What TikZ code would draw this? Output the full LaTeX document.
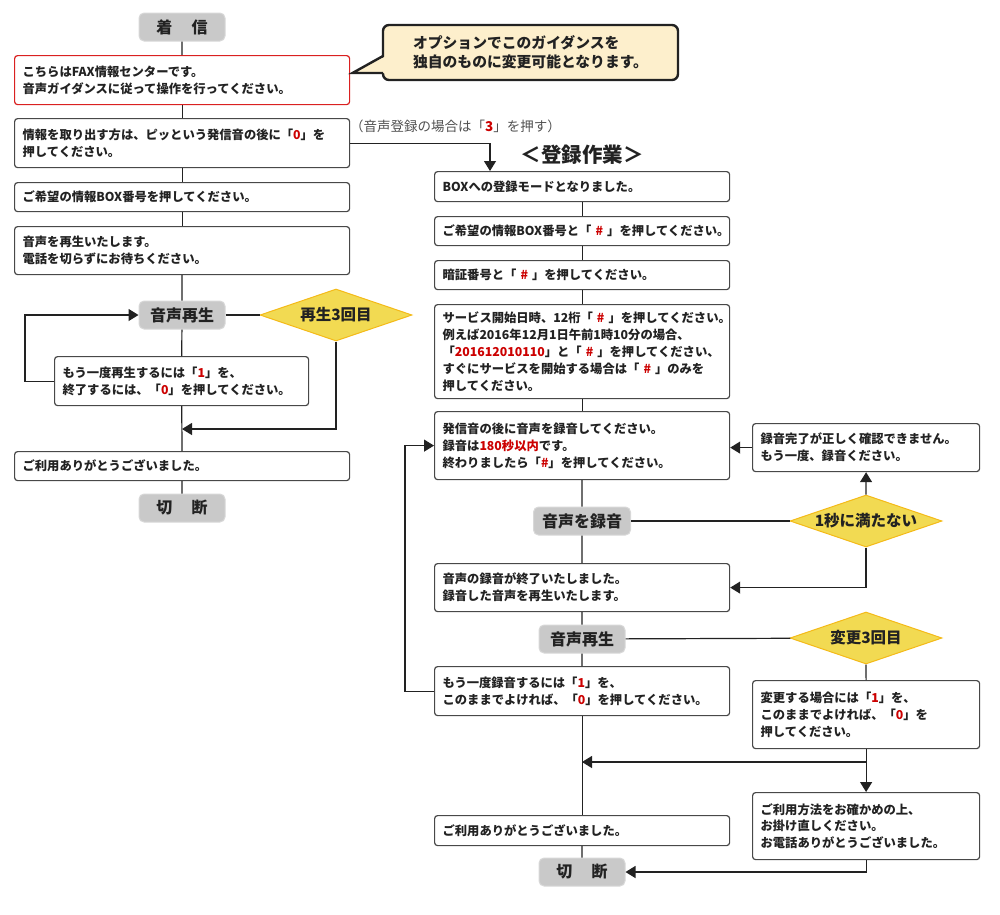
\documentclass[tikz,border=0pt]{standalone}
\usepackage{fontspec}
\newfontfamily\jp{Noto Sans CJK JP}
\usetikzlibrary{arrows.meta,shapes.geometric}
\definecolor{hl}{RGB}{204,0,0}
\definecolor{ink}{RGB}{34,34,34}
\definecolor{edge}{RGB}{72,72,72}
\definecolor{pillfill}{RGB}{201,201,201}
\definecolor{pilledge}{RGB}{216,216,216}
\definecolor{diafill}{RGB}{242,218,82}
\definecolor{diaedge}{RGB}{244,186,24}
\definecolor{callfill}{RGB}{253,239,204}
\definecolor{boxred}{RGB}{218,32,32}
\definecolor{labgray}{RGB}{80,80,80}
\newcommand{\hlt}[1]{\textcolor{hl}{#1}}
\tikzset{
  box/.style n args={3}{draw=edge, line width=1.2pt, rounded corners=3pt, fill=white,
    anchor=north west, align=left, inner xsep=8pt, inner ysep=2pt,
    minimum width=#1, text width=#2, minimum height=#3,
    font=\jp\bfseries\fontsize{12.3}{16.9}\selectfont, text=ink},
  pill/.style={fill=pillfill, draw=pilledge, line width=1pt, rounded corners=5pt,
    minimum width=86pt, minimum height=28pt, inner sep=0pt,
    font=\jp\bfseries\fontsize{16}{18}\selectfont, text=ink},
  dia/.style={diamond, aspect=2.92, fill=diafill, draw=diaedge, line width=1pt,
    minimum width=152pt, minimum height=52pt, inner sep=0pt,
    font=\jp\bfseries\fontsize{15.5}{18}\selectfont, text=ink},
  conn/.style={line width=1.2pt, draw=ink},
  arr/.style={line width=1.2pt, draw=ink, -{Triangle[length=10pt,width=12pt]}},
}
\begin{document}
\begin{tikzpicture}[x=1pt,y=-1pt]
\useasboundingbox (0,0) rectangle (1000,914);

% ---------- left column ----------
\node[pill] (t1) at (182,27) {着\hspace{1.2em}信};
\node[box={335pt}{319pt}{49pt}, draw=boxred] (b1) at (14,55) {こちらはFAX情報センターです。\\音声ガイダンスに従って操作を行ってください。};
\node[box={335pt}{319pt}{49pt}] (b2) at (14,118) {情報を取り出す方は、ピッという発信音の後に「\hlt{0}」を\\押してください。};
\node[box={335pt}{319pt}{29pt}] (b3) at (14,182) {ご希望の情報BOX番号を押してください。};
\node[box={335pt}{319pt}{48pt}] (b4) at (14,226) {音声を再生いたします。\\電話を切らずにお待ちください。};
\node[pill] (p1) at (182,315) {音声再生};
\node[dia] (d1) at (336,315) {再生3回目};
\node[box={254pt}{238pt}{49pt}] (b5) at (54,356) {もう一度再生するには「\hlt{1}」を、\\終了するには、「\hlt{0}」を押してください。};
\node[box={335pt}{319pt}{29pt}] (b6) at (14,451) {ご利用ありがとうございました。};
\node[pill] (e1) at (182,508) {切\hspace{1.2em}断};
\coordinate (j1) at (182,429);

\draw[conn] (t1) -- (b1);
\draw[conn] (b1) -- (b2);
\draw[conn] (b2) -- (b3);
\draw[conn] (b3) -- (b4);
\draw[conn] (b4) -- (p1);
\draw[conn] (p1) -- (b5);
\draw[conn] (b5) -- (b6);
\draw[conn] (b6) -- (e1);
\draw[conn] (p1) -- (d1);
\draw[arr] (b5.west) -- ++(-29,0) |- (p1.west);
\draw[arr] (d1.south) |- (j1);

% ---------- callout ----------
\node[fill=callfill, draw=ink, line width=2.4pt, rounded corners=6pt,
  minimum width=295pt, minimum height=55pt, align=left,
  font=\jp\bfseries\fontsize{14.8}{19}\selectfont, text=ink] (co) at (530.5,52.5)
  {オプションでこのガイダンスを\\独自のものに変更可能となります。};
\fill[callfill] (386,56) -- (352.5,73) -- (386,73) -- cycle;
\draw[draw=ink, line width=2.4pt, line join=miter] (383,56) -- (352.5,73) -- (383,73);

% ---------- branch ----------
\node[anchor=west, inner sep=0pt, text=labgray, font=\jp\fontsize{13.5}{15}\selectfont] (lab) at (350,126) {（音声登録の場合は「\hlt{\bfseries 3}」を押す）};
\node[font=\jp\bfseries\fontsize{20.5}{24}\selectfont, text=ink, inner sep=0pt] (title) at (582,155) {＜登録作業＞};

% ---------- right column ----------
\node[box={295pt}{279pt}{30pt}] (r1) at (434,171) {BOXへの登録モードとなりました。};
\node[box={295pt}{279pt}{29pt}] (r2) at (434,216) {\mbox{ご希望の情報BOX番号と「~\hlt{\#}~」を押してください。}};
\node[box={295pt}{279pt}{29pt}] (r3) at (434,260) {\mbox{暗証番号と「~\hlt{\#}~」を押してください。}};
\node[box={295pt}{279pt}{94pt}] (r4) at (434,304) {\mbox{サービス開始日時、12桁「~\hlt{\#}~」を押してください。}\\例えば2016年12月1日午前1時10分の場合、\\\mbox{「\hlt{201612010110}」と「~\hlt{\#}~」を押してください、}\\\mbox{すぐにサービスを開始する場合は「~\hlt{\#}~」のみを}\\押してください。};
\node[box={295pt}{279pt}{68pt}] (r5) at (434,411) {発信音の後に音声を録音してください。\\録音は\hlt{180秒以内}です。\\終わりましたら「\hlt{\#}」を押してください。};
\node[pill, minimum width=97pt] (p2) at (582,521) {音声を録音};
\node[dia] (d2) at (866,521) {1秒に満たない};
\node[box={227pt}{211pt}{48pt}] (er) at (752,423) {録音完了が正しく確認できません。\\もう一度、録音ください。};
\node[box={295pt}{279pt}{48pt}] (r6) at (434,563) {音声の録音が終了いたしました。\\録音した音声を再生いたします。};
\node[pill] (p3) at (582,639) {音声再生};
\node[dia] (d3) at (866,638) {変更3回目};
\node[box={295pt}{279pt}{49pt}] (r7) at (434,666) {もう一度録音するには「\hlt{1}」を、\\このままでよければ、「\hlt{0}」を押してください。};
\node[box={227pt}{211pt}{68pt}] (ch) at (752,680) {変更する場合には「\hlt{1}」を、\\このままでよければ、「\hlt{0}」を\\押してください。};
\node[box={227pt}{211pt}{67pt}] (fi) at (752,792) {ご利用方法をお確かめの上、\\お掛け直しください。\\お電話ありがとうございました。};
\node[box={295pt}{279pt}{30pt}] (r8) at (434,815) {ご利用ありがとうございました。};
\node[pill] (e2) at (582,872) {切\hspace{1.2em}断};
\coordinate (j2) at (582,762);

\draw[arr] (b2.east) -| ([xshift=56pt]r1.north west);
\draw[conn] (r1) -- (r2);
\draw[conn] (r2) -- (r3);
\draw[conn] (r3) -- (r4);
\draw[conn] (r4) -- (r5);
\draw[conn] (r5) -- (p2);
\draw[conn] (p2) -- (r6);
\draw[conn] (r6) -- (p3);
\draw[conn] (p3) -- (r7);
\draw[conn] (r7) -- (r8);
\draw[conn] (r8) -- (e2);
\draw[conn] (p2) -- (d2);
\draw[arr] (d2.north) -- (er.south);
\draw[arr] (er.west) -- (er.west -| r5.east);
\draw[arr] (d2.south) |- (r6.east);
\draw[conn] (p3) -- (d3);
\draw[conn] (d3.south) -- (ch.north);
\draw[arr] (r7.west) -- ++(-29,0) |- (r5.west);
\draw[arr] (ch.south) -- (fi.north);
\draw[arr] (ch.south |- j2) -- (j2);
\draw[arr] (fi.south) |- (e2.east);
\end{tikzpicture}
\end{document}
